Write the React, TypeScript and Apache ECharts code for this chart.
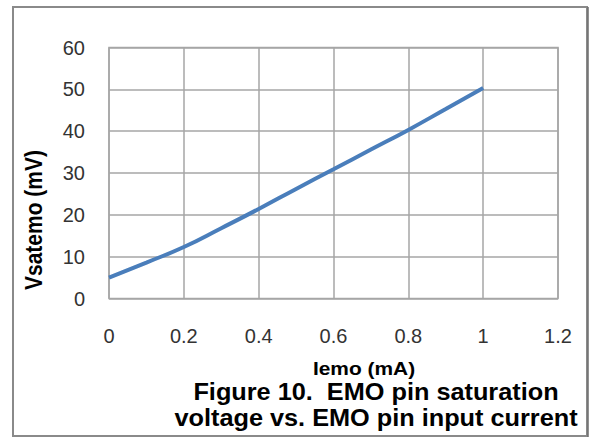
import React, { useEffect, useRef } from "react";
import * as echarts from "echarts";

const xValues = [0, 0.1, 0.2, 0.3, 0.4, 0.5, 0.6, 0.7, 0.8, 0.9, 1.0];
const yValues = [5.0, 8.6, 12.3, 16.8, 21.4, 26.2, 30.9, 35.6, 40.3, 45.3, 50.3];
const yTitle = "Vsatemo (mV)";
const xTitle = "Iemo (mA)";
const captionLines = ["Figure 10.  EMO pin saturation", "voltage vs. EMO pin input current"];

export default function App() {
  const ref = useRef<HTMLDivElement>(null);
  useEffect(() => {
    if (!ref.current) return;
    const chart = echarts.init(ref.current, null, { renderer: "svg" });
    const font = "'Liberation Sans', Arial, sans-serif";
    chart.setOption({
      animation: false,
      backgroundColor: "#ffffff",
      grid: { left: 109, top: 47.5, width: 449, height: 251, containLabel: false },
      xAxis: {
        type: "value",
        min: 0,
        max: 1.2,
        interval: 0.2,
        axisLine: { show: false },
        axisTick: { show: false },
        axisLabel: {
          margin: 27,
          fontFamily: font,
          fontSize: 20,
          color: "#333",
          formatter: (v: number) => String(Math.round(v * 10) / 10),
        },
        splitLine: { show: true, lineStyle: { color: "#a6a6a6", width: 1.5 } },
      },
      yAxis: {
        type: "value",
        min: 0,
        max: 60,
        interval: 10,
        axisLine: { show: false },
        axisTick: { show: false },
        axisLabel: { margin: 24, fontFamily: font, fontSize: 20, color: "#333" },
        splitLine: { show: true, lineStyle: { color: "#a6a6a6", width: 1.5 } },
      },
      series: [
        {
          type: "line",
          data: xValues.map((x, i) => [x, yValues[i]]),
          smooth: true,
          showSymbol: false,
          lineStyle: { color: "#4a7ebb", width: 4 },
        },
      ],
      graphic: [
        {
          type: "rect",
          shape: { x: 109, y: 47.5, width: 449, height: 251 },
          style: { fill: "none", stroke: "#a6a6a6", lineWidth: 1.5 },
          silent: true,
        },
        {
          type: "rect",
          shape: { x: 13, y: 7, width: 574, height: 429 },
          style: { fill: "none", stroke: "#8a8a8a", lineWidth: 2 },
          silent: true,
        },
        {
          type: "line",
          shape: { x1: 588, y1: 7, x2: 588, y2: 437 },
          style: { stroke: "#6e6e6e", lineWidth: 1.5 },
          silent: true,
        },
        {
          type: "text",
          x: 34,
          y: 220,
          rotation: Math.PI / 2,
          scaleY: 1.1,
          style: {
            text: yTitle,
            font: `bold 21px ${font}`,
            fill: "#000",
            align: "center",
            verticalAlign: "middle",
          },
        },
        {
          type: "text",
          x: 364,
          y: 368,
          scaleX: 1.1,
          style: {
            text: xTitle,
            font: `bold 19px ${font}`,
            fill: "#000",
            align: "center",
            verticalAlign: "middle",
          },
        },
        ...captionLines.map((t, i) => ({
          type: "text",
          x: 376,
          y: 392 + i * 26,
          scaleX: 1.1,
          style: {
            text: t,
            font: `bold 23px ${font}`,
            fill: "#000",
            align: "center",
            verticalAlign: "middle",
          },
        })),
      ],
    });
    return () => chart.dispose();
  }, []);
  return (
    <div
      ref={ref}
      style={{ position: "absolute", left: 0, top: 0, width: 592, height: 439 }}
    />
  );
}
